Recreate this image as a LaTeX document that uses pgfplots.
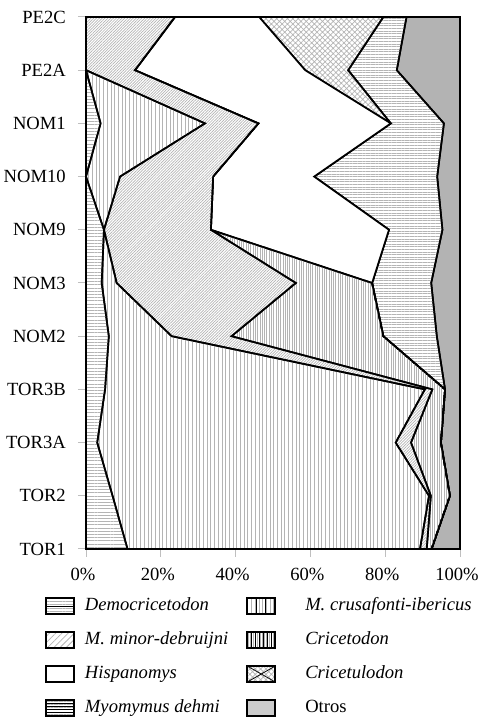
\documentclass[border=0pt]{standalone}
\usepackage{fontspec}
\setmainfont{Liberation Serif}
\usepackage{pgfplots}
\usepackage{pgfplotstable}
\pgfplotsset{compat=1.18}
\usetikzlibrary{patterns,patterns.meta}
\newcommand{\fs}{\fontsize{9.3}{11.2}\selectfont}
\definecolor{otros}{RGB}{179,179,179}
\definecolor{pat}{RGB}{180,180,180}

\pgfplotstableread{
y democ mcrus mminor crice hispa cricet myomy otros
0  11.1 78.2  1.8  1.3  0     0     0     7.6
1  7.1  84.6  0.5  5.1  0     0     0     2.7
2  3.0  79.8  4.1  8.0  0     0     0     5.1
3  5.1  85.5  2.0  3.4  0     0     0     4.0
4  6.1  16.8  16.0 40.6 0     0     14.3  6.2
5  4.2  4.0   47.9 20.4 0     0     15.8  7.7
6  4.8  0     28.6 0    47.6  0     14.3  4.7
7  0    9.1   24.9 0    27.0  0     32.9  6.1
8  3.9  27.9  14.3 0    35.4  0     14.2  4.3
9  0    0     13.1 0    45.5  11.5  13.0  16.9
10 0    0     23.8 0    22.5  33.2  6.2   14.3
}\data

\begin{document}
\begin{tikzpicture}[font=\fs]
\begin{axis}[
  name=ax,
  scale only axis, width=187pt, height=266pt,
  xmin=0, xmax=100, ymin=0, ymax=10,
  stack plots=x,
  axis on top,
  axis line style={line width=1pt},
  xtick={0,20,40,60,80,100},
  xticklabels={0\%,20\%,40\%,60\%,80\%,100\%},
  ytick={0,1,2,3,4,5,6,7,8,9,10},
  yticklabels={TOR1,TOR2,TOR3A,TOR3B,NOM2,NOM3,NOM9,NOM10,NOM1,PE2A,PE2C},
  tick align=outside, major tick length=4pt,
  xtick pos=bottom, ytick pos=left,
  tick style={color=gray!50, line width=0.5pt},
  yticklabel style={xshift=-2.6pt},
  xticklabel style={yshift=-2pt, xshift=-1.5pt},
  tick label style={font=\fs},
  legend columns=2,
  legend cell align=left,
  legend style={at={(0,0)}, anchor=north west, xshift=-20.5pt, yshift=-24pt,
    draw=none, fill=none, inner sep=0pt, outer sep=0pt, font=\fs, row sep=8pt,
    nodes={inner sep=0pt, text height=6.6pt, text depth=2.2pt},
    /tikz/every odd column/.append style={column sep=5pt},
    /tikz/every even column/.append style={column sep=9pt}},
  every axis plot/.append style={draw=black, line width=0.85pt, line join=miter},
]
\addplot[pattern={Lines[angle=0,distance=1.6pt,line width=0.45pt]}, pattern color=pat,
  legend image code/.code={\draw[line width=1pt] (0pt,-4pt) rectangle (14pt,4pt); \draw[line width=0.4pt] (0pt,0pt) -- (14pt,0pt);}]
  table[x=democ,y=y] {\data} \closedcycle;
\addlegendentry{\textit{Democricetodon}}
\addplot[pattern={Lines[angle=90,distance=1.85pt,line width=0.45pt]}, pattern color=pat,
  legend image code/.code={\draw[line width=1pt] (0pt,-4pt) rectangle (14pt,4pt); \draw[line width=0.4pt] (4.7pt,-4pt) -- (4.7pt,4pt) (9.3pt,-4pt) -- (9.3pt,4pt);}]
  table[x=mcrus,y=y] {\data} \closedcycle;
\addlegendentry{\hspace{9.5pt}\textit{M. crusafonti-ibericus}}
\addplot[pattern={Lines[angle=45,distance=1pt,line width=0.35pt]}, pattern color=pat,
  legend image code/.code={\draw[line width=1pt, pattern={Lines[angle=45,distance=2.2pt,line width=0.4pt]}] (0pt,-4pt) rectangle (14pt,4pt);}]
  table[x=mminor,y=y] {\data} \closedcycle;
\addlegendentry{\textit{M. minor-debruijni}}
\addplot[pattern={Lines[angle=90,distance=1.15pt,line width=0.35pt]}, pattern color=pat,
  legend image code/.code={\draw[line width=1pt] (0pt,-4pt) rectangle (14pt,4pt); \foreach \i in {2,4,...,12} {\draw[line width=0.4pt] (\i pt,-4pt) -- (\i pt,4pt);}}]
  table[x=crice,y=y] {\data} \closedcycle;
\addlegendentry{\hspace{9.5pt}\textit{Cricetodon}}
\addplot[fill=white,
  legend image code/.code={\draw[line width=1pt] (0pt,-4pt) rectangle (14pt,4pt);}]
  table[x=hispa,y=y] {\data} \closedcycle;
\addlegendentry{\textit{Hispanomys}}
\addplot[pattern={Hatch[angle=45,distance=1.9pt,line width=0.35pt]}, pattern color=pat,
  legend image code/.code={\draw[line width=1pt] (0pt,-4pt) rectangle (14pt,4pt); \draw[line width=0.4pt] (0pt,-4pt) -- (14pt,4pt) (0pt,4pt) -- (14pt,-4pt);}]
  table[x=cricet,y=y] {\data} \closedcycle;
\addlegendentry{\hspace{9.5pt}\textit{Cricetulodon}}
\addplot[pattern={Lines[angle=0,distance=1.3pt,line width=0.4pt]}, pattern color=pat,
  legend image code/.code={\draw[line width=1pt] (0pt,-4pt) rectangle (14pt,4pt); \foreach \j in {-2.4,-0.8,0.8,2.4} {\draw[line width=0.4pt] (0pt,\j pt) -- (14pt,\j pt);}}]
  table[x=myomy,y=y] {\data} \closedcycle;
\addlegendentry{\textit{Myomymus dehmi}}
\addplot[fill=otros,
  legend image code/.code={\draw[line width=1pt, fill=gray!40] (0pt,-4pt) rectangle (14pt,4pt);}]
  table[x=otros,y=y] {\data} \closedcycle;
\addlegendentry{\hspace{9.5pt}Otros}
\end{axis}
\pgfresetboundingbox
\path[use as bounding box] ([xshift=-43pt,yshift=8.5pt]ax.north west) rectangle ([xshift=9.5pt,yshift=-85.5pt]ax.south east);
\end{tikzpicture}
\end{document}
